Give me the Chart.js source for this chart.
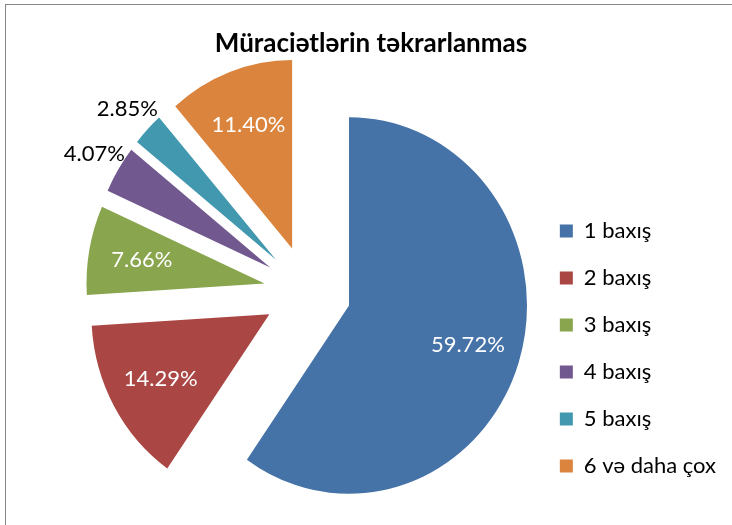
<!DOCTYPE html>
<html>
<head>
<meta charset="utf-8">
<script src="https://cdn.jsdelivr.net/npm/chart.js@4/dist/chart.umd.min.js"></script>
<style>
  html, body { margin: 0; padding: 0; background: #fff; overflow: hidden; }
  #wrap { position: relative; width: 732px; height: 525px; }
  #frame { position: absolute; left: 5px; top: 4px; width: 900px; height: 700px; border: 1px solid #868686; pointer-events: none; }
</style>
</head>
<body>
<div id="wrap">
  <canvas id="pieChart" width="732" height="525"></canvas>
  <div id="frame"></div>
</div>
<script>
const categories = ['1 baxış', '2 baxış', '3 baxış', '4 baxış', '5 baxış', '6 və daha çox'];
const shares = [59.72, 14.29, 7.66, 4.07, 2.85, 11.40];
const sliceColors = ['#4572A7', '#AA4643', '#89A54E', '#71588F', '#4198AF', '#DB843D'];

const FONT = 'Lato, "Liberation Sans", sans-serif';
const EXPLODE = 0.245;   // slice pull-out, share of radius
const STRETCH_Y = 1.058; // the original picture is a bit taller than wide

// draw each arc pulled out along its middle angle (exploded pie)
const explodePlugin = {
    id: 'explode',
    beforeDatasetDraw(chart, args) {
        const ctx = chart.ctx;
        args.meta.data.forEach(function(arc) {
            const mid = (arc.startAngle + arc.endAngle) / 2;
            const d = arc.outerRadius * EXPLODE;
            ctx.save();
            ctx.translate(arc.x, arc.y);
            ctx.scale(1, STRETCH_Y);
            ctx.translate(-arc.x + Math.cos(mid) * d, -arc.y + Math.sin(mid) * d);
            arc.draw(ctx, chart.chartArea);
            ctx.restore();
        });
        return false;
    }
};

// percent labels, inside big slices, outside small ones
const labelPlugin = {
    id: 'sliceLabels',
    afterLayout(chart) {
        // title centred over the whole picture, not only the plot
        chart.titleBlock.left = 10;
        chart.titleBlock.right = chart.width;
    },
    afterDatasetsDraw(chart) {
        const ctx = chart.ctx;
        const meta = chart.getDatasetMeta(0);
        ctx.save();
        ctx.font = '22px ' + FONT;
        ctx.textAlign = 'center';
        ctx.textBaseline = 'middle';
        meta.data.forEach(function(arc, i) {
            const v = shares[i];
            const mid = (arc.startAngle + arc.endAngle) / 2;
            const r = arc.outerRadius;
            const d = r * EXPLODE;
            let dist, color;
            if (v < 5) {
                dist = d + r + 28;
                color = '#000';
            } else {
                dist = d + r * 0.7;
                color = '#fff';
            }
            ctx.fillStyle = color;
            ctx.fillText(v.toFixed(2) + '%',
                arc.x + Math.cos(mid) * dist,
                arc.y + Math.sin(mid) * dist * STRETCH_Y);
        });
        ctx.restore();
    }
};

const ctx = document.getElementById('pieChart').getContext('2d');
const pieChart = new Chart(ctx, {
    type: 'pie',
    data: {
        labels: categories,
        datasets: [{
            data: shares,
            backgroundColor: sliceColors,
            borderWidth: 0,
            hoverOffset: 0
        }]
    },
    options: {
        responsive: false,
        devicePixelRatio: 1,
        animation: false,
        radius: 178,
        layout: {
            padding: { left: 80, right: 6, top: 0, bottom: 23 }
        },
        plugins: {
            title: {
                display: true,
                text: 'Müraciətlərin təkrarlanmas',
                color: '#000',
                font: { family: FONT, size: 26, weight: 'bold' },
                padding: { top: 28, bottom: 22 }
            },
            legend: {
                position: 'right',
                align: 'end',
                labels: {
                    color: '#000',
                    boxWidth: 13,
                    boxHeight: 13,
                    padding: 25,
                    font: { family: FONT, size: 22 }
                }
            },
            tooltip: { enabled: false }
        }
    },
    plugins: [explodePlugin, labelPlugin]
});
</script>
</body>
</html>
